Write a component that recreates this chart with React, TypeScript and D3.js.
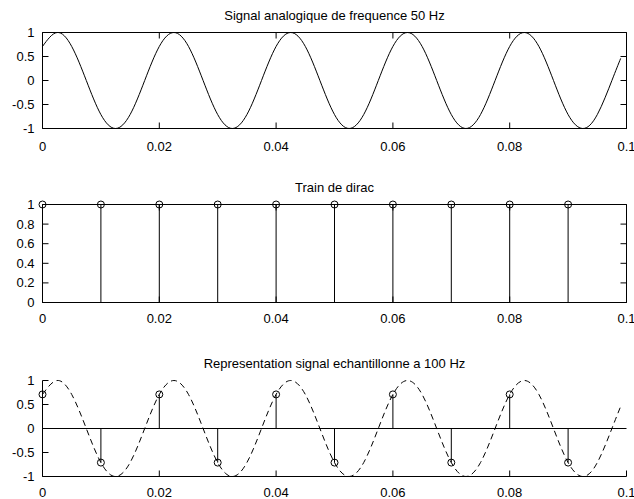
import React from 'react';
import * as d3 from 'd3';

// ---- data ----
const timeAxis = [
  0, 0.0025, 0.005, 0.0075, 0.01, 0.0125, 0.015, 0.0175,
  0.02, 0.0225, 0.025, 0.0275, 0.03, 0.0325, 0.035, 0.0375,
  0.04, 0.0425, 0.045, 0.0475, 0.05, 0.0525, 0.055, 0.0575,
  0.06, 0.0625, 0.065, 0.0675, 0.07, 0.0725, 0.075, 0.0775,
  0.08, 0.0825, 0.085, 0.0875, 0.09, 0.0925, 0.095, 0.0975, 0.099,
];
const analogSignal = [
  0.71, 1, 0.71, 0, -0.71, -1, -0.71, 0,
  0.71, 1, 0.71, 0, -0.71, -1, -0.71, 0,
  0.71, 1, 0.71, 0, -0.71, -1, -0.71, 0,
  0.71, 1, 0.71, 0, -0.71, -1, -0.71, 0,
  0.71, 1, 0.71, 0, -0.71, -1, -0.71, 0, 0.46,
];
const sampleTimes = [0, 0.01, 0.02, 0.03, 0.04, 0.05, 0.06, 0.07, 0.08, 0.09];
const diracValues = [1, 1, 1, 1, 1, 1, 1, 1, 1, 1];
const sampledValues = [0.71, -0.71, 0.71, -0.71, 0.71, -0.71, 0.71, -0.71, 0.71, -0.71];

const xTicks = [0, 0.02, 0.04, 0.06, 0.08, 0.1];
const xTickLabels = ['0', '0.02', '0.04', '0.06', '0.08', '0.1'];
const ySignalTicks = [-1, -0.5, 0, 0.5, 1];
const ySignalLabels = ['-1', '-0.5', '0', '0.5', '1'];
const yDiracTicks = [0, 0.2, 0.4, 0.6, 0.8, 1];
const yDiracLabels = ['0', '0.2', '0.4', '0.6', '0.8', '1'];
const titles = [
  'Signal analogique de frequence 50 Hz',
  'Train de dirac',
  'Representation signal echantillonne a 100 Hz',
];

// ---- layout ----
const W = 634;
const H = 499;
const LEFT = 42.5;
const RIGHT = 626.5;
const TICK = 6;
const FONT = "'Liberation Sans', Arial, Helvetica, sans-serif";
const FS = 13;

const x = d3.scaleLinear().domain([0, 0.1]).range([LEFT, RIGHT]);

type AxesProps = {
  top: number;
  bottom: number;
  yDomain: [number, number];
  yTicks: number[];
  yLabels: string[];
  title: string;
  box: boolean;
  labelOffset: number;
  children: (y: d3.ScaleLinear<number, number>) => React.ReactNode;
};

function Axes({ top, bottom, yDomain, yTicks, yLabels, title, box, labelOffset, children }: AxesProps) {
  const y = d3.scaleLinear().domain(yDomain).range([bottom, top]);
  return (
    <g>
      <text x={(LEFT + RIGHT) / 2} y={top - 13} textAnchor="middle" fontFamily={FONT} fontSize={FS} fill="#000">
        {title}
      </text>
      {children(y)}
      {/* axes lines */}
      <line x1={LEFT} x2={LEFT} y1={top} y2={bottom} stroke="#000" strokeWidth={1} />
      <line x1={LEFT} x2={RIGHT} y1={bottom} y2={bottom} stroke="#000" strokeWidth={1} />
      {box && (
        <>
          <line x1={LEFT} x2={RIGHT} y1={top} y2={top} stroke="#000" strokeWidth={1} />
          <line x1={RIGHT} x2={RIGHT} y1={top} y2={bottom} stroke="#000" strokeWidth={1} />
        </>
      )}
      {xTicks.map((t, i) => (
        <g key={'x' + i}>
          <line x1={x(t)} x2={x(t)} y1={bottom} y2={bottom - TICK} stroke="#000" />
          {box && <line x1={x(t)} x2={x(t)} y1={top} y2={top + TICK} stroke="#000" />}
          <text x={x(t)} y={bottom + labelOffset} textAnchor="middle" fontFamily={FONT} fontSize={FS} fill="#000">
            {xTickLabels[i]}
          </text>
        </g>
      ))}
      {yTicks.map((v, i) => (
        <g key={'y' + i}>
          <line x1={LEFT} x2={LEFT + TICK} y1={y(v)} y2={y(v)} stroke="#000" />
          {box && <line x1={RIGHT} x2={RIGHT - TICK} y1={y(v)} y2={y(v)} stroke="#000" />}
          <text x={LEFT - 8} y={y(v)} dy="0.35em" textAnchor="end" fontFamily={FONT} fontSize={FS} fill="#000">
            {yLabels[i]}
          </text>
        </g>
      ))}
    </g>
  );
}

export default function App() {
  const pts = timeAxis.map((t, i) => [t, analogSignal[i]] as [number, number]);
  const makeLine = (y: d3.ScaleLinear<number, number>) =>
    d3
      .line<[number, number]>()
      .x((d) => x(d[0]))
      .y((d) => y(d[1]))
      .curve(d3.curveNatural)(pts) || '';

  return (
    <svg width={W} height={H} style={{ position: 'absolute', left: 0, top: 0, background: '#fff' }}>
      <rect width={W} height={H} fill="#fff" />
      <Axes top={32.5} bottom={128.5} yDomain={[-1, 1]} yTicks={ySignalTicks} yLabels={ySignalLabels}
        title={titles[0]} box={true} labelOffset={22}>
        {(y) => <path d={makeLine(y)} fill="none" stroke="#000" strokeWidth={1} />}
      </Axes>
      <Axes top={204.5} bottom={302.5} yDomain={[0, 1]} yTicks={yDiracTicks} yLabels={yDiracLabels}
        title={titles[1]} box={true} labelOffset={20.5}>
        {(y) => (
          <g>
            {sampleTimes.map((t, i) => (
              <g key={i}>
                <line x1={x(t)} x2={x(t)} y1={y(0)} y2={y(diracValues[i])} stroke="#000" />
              </g>
            ))}
            <line x1={x(0)} x2={x(0.1)} y1={y(0)} y2={y(0)} stroke="#000" />
            {sampleTimes.map((t, i) => (
              <circle key={'c' + i} cx={x(t)} cy={y(diracValues[i])} r={3.5} fill="none" stroke="#000" />
            ))}
          </g>
        )}
      </Axes>
      <Axes top={380.5} bottom={476.5} yDomain={[-1, 1]} yTicks={ySignalTicks} yLabels={ySignalLabels}
        title={titles[2]} box={false} labelOffset={20}>
        {(y) => (
          <g>
            <path d={makeLine(y)} fill="none" stroke="#000" strokeWidth={1} strokeDasharray="6,4" />
            {sampleTimes.map((t, i) => (
              <line key={i} x1={x(t)} x2={x(t)} y1={y(0)} y2={y(sampledValues[i])} stroke="#000" />
            ))}
            <line x1={x(0)} x2={x(0.1)} y1={y(0)} y2={y(0)} stroke="#000" />
            {sampleTimes.map((t, i) => (
              <circle key={'c' + i} cx={x(t)} cy={y(sampledValues[i])} r={3.5} fill="none" stroke="#000" />
            ))}
          </g>
        )}
      </Axes>
    </svg>
  );
}
